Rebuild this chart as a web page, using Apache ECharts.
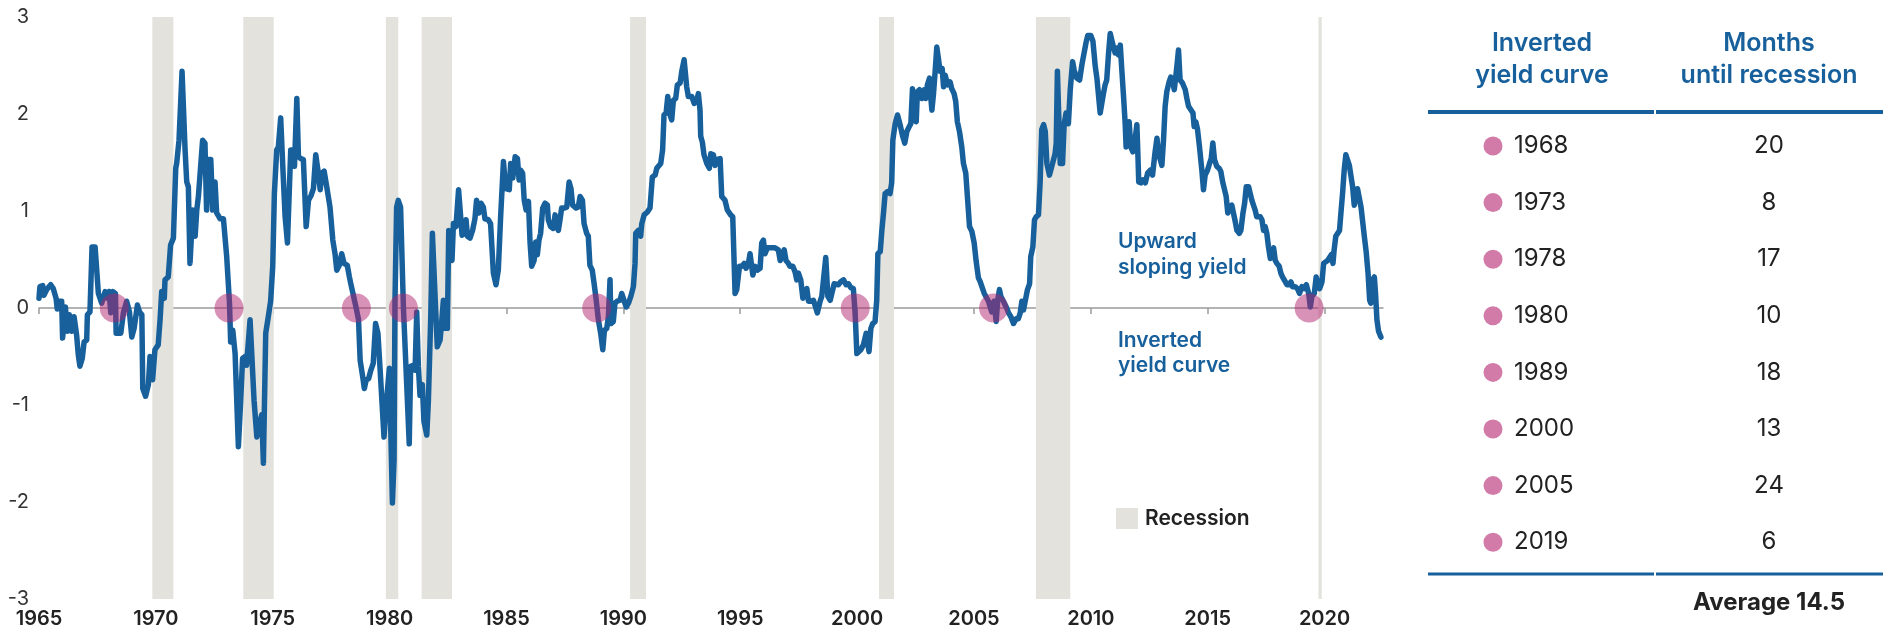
<!DOCTYPE html>
<html>
<head>
<meta charset="utf-8">
<script src="https://cdn.jsdelivr.net/npm/echarts@6/dist/echarts.min.js"></script>
<style>
  html, body { margin: 0; padding: 0; background: #fff; }
  #chart { width: 1887px; height: 634px; }
</style>
</head>
<body>
<div id="chart"></div>
<script>
// yield spread (decimal year, percentage points)
var dates = [
  1965.00,1965.04,1965.16,1965.21,1965.33,1965.50,1965.61,1965.73,1965.78,1965.87,1965.97,
  1966.01,1966.13,1966.21,1966.30,1966.40,1966.50,1966.61,1966.68,1966.75,1966.85,1966.93,
  1967.04,1967.07,1967.18,1967.27,1967.40,1967.54,1967.68,1967.83,1967.92,
  1968.00,1968.07,1968.15,1968.27,1968.30,1968.40,1968.50,1968.61,1968.75,1968.87,1968.97,
  1969.07,1969.15,1969.21,1969.30,1969.40,1969.44,1969.56,1969.68,1969.75,1969.86,1969.96,
  1970.10,1970.18,1970.25,1970.36,1970.39,1970.53,1970.63,1970.75,1970.85,1970.89,1970.99,
  1971.12,1971.25,1971.32,1971.39,1971.46,1971.58,1971.68,1971.75,1971.82,1971.89,
  1972.00,1972.10,1972.17,1972.25,1972.35,1972.43,1972.53,1972.60,1972.75,1972.89,
  1973.03,1973.15,1973.20,1973.29,1973.39,1973.53,1973.63,1973.71,1973.81,1973.88,
  1974.03,1974.10,1974.20,1974.32,1974.43,1974.53,1974.60,1974.70,1974.81,1974.91,
  1975.00,1975.07,1975.17,1975.24,1975.34,1975.43,1975.53,1975.63,1975.71,1975.77,1975.88,1975.93,
  1976.03,1976.10,1976.20,1976.31,1976.43,1976.53,1976.64,1976.74,1976.84,1976.95,
  1977.03,1977.10,1977.20,1977.31,1977.45,1977.57,1977.67,1977.74,1977.85,1977.95,
  1978.05,1978.19,1978.28,1978.34,1978.45,1978.57,1978.67,1978.74,1978.85,1978.92,
  1979.00,1979.10,1979.20,1979.30,1979.40,1979.50,1979.59,1979.66,1979.76,1979.87,1979.99,
  1980.04,1980.12,1980.19,1980.23,1980.30,1980.37,1980.47,1980.59,1980.73,1980.84,1980.90,
  1981.01,1981.09,1981.16,1981.23,1981.30,1981.40,1981.47,1981.59,1981.66,1981.76,1981.83,1981.94,
  1982.04,1982.16,1982.23,1982.30,1982.37,1982.47,1982.53,1982.61,1982.67,1982.73,1982.84,1982.90,1982.95,
  1983.04,1983.10,1983.20,1983.27,1983.33,1983.44,1983.55,1983.65,1983.72,1983.82,1983.91,
  1984.01,1984.08,1984.22,1984.32,1984.44,1984.55,1984.65,1984.75,1984.87,1984.97,
  1985.05,1985.12,1985.18,1985.27,1985.37,1985.47,1985.54,1985.61,1985.69,1985.76,1985.84,1985.94,
  1986.01,1986.08,1986.18,1986.25,1986.32,1986.39,1986.46,1986.55,1986.65,1986.75,1986.79,1986.89,
  1987.00,1987.08,1987.15,1987.22,1987.29,1987.36,1987.46,1987.58,1987.68,1987.76,1987.83,1987.89,1987.98,
  1988.07,1988.15,1988.25,1988.32,1988.43,1988.50,1988.57,1988.67,1988.75,1988.83,1988.93,
  1989.03,1989.12,1989.19,1989.29,1989.36,1989.43,1989.47,1989.57,1989.64,1989.74,1989.86,1989.93,
  1990.00,1990.12,1990.22,1990.32,1990.43,1990.50,1990.53,1990.64,1990.74,1990.79,1990.89,
  1991.03,1991.14,1991.24,1991.36,1991.43,1991.50,1991.60,1991.68,1991.74,1991.83,1991.90,1991.97,
  1992.07,1992.14,1992.24,1992.31,1992.43,1992.50,1992.60,1992.71,1992.78,1992.93,
  1993.03,1993.14,1993.21,1993.28,1993.31,1993.38,1993.45,1993.57,1993.68,1993.74,1993.85,1993.92,1993.99,
  1994.14,1994.21,1994.35,1994.45,1994.59,1994.68,1994.78,1994.85,1994.97,
  1995.07,1995.17,1995.25,1995.35,1995.42,1995.54,1995.64,1995.74,1995.85,1995.92,1995.99,
  1996.06,1996.16,1996.28,1996.35,1996.49,1996.63,1996.71,1996.78,1996.88,1996.96,
  1997.06,1997.13,1997.25,1997.35,1997.42,1997.49,1997.59,1997.68,1997.75,1997.85,1997.92,
  1998.02,1998.13,1998.20,1998.30,1998.42,1998.49,1998.56,1998.66,1998.75,1998.85,1998.92,
  1999.02,1999.10,1999.20,1999.30,1999.42,1999.53,1999.63,1999.73,1999.84,1999.92,1999.99,
  2000.06,2000.16,2000.27,2000.39,2000.44,2000.51,2000.59,2000.67,2000.77,2000.84,2000.89,2000.99,
  2001.06,2001.13,2001.20,2001.30,2001.41,2001.48,2001.53,2001.63,2001.73,2001.84,2001.95,
  2002.04,2002.13,2002.23,2002.30,2002.37,2002.44,2002.53,2002.58,2002.67,2002.77,2002.87,2002.94,
  2003.01,2003.10,2003.15,2003.20,2003.27,2003.34,2003.41,2003.48,2003.55,2003.64,2003.70,2003.77,2003.87,2003.98,
  2004.05,2004.15,2004.22,2004.29,2004.38,2004.48,2004.55,2004.65,2004.72,2004.81,2004.91,
  2005.01,2005.09,2005.19,2005.27,2005.34,2005.44,2005.52,2005.62,2005.69,2005.76,2005.86,2005.95,
  2006.01,2006.09,2006.15,2006.26,2006.38,2006.48,2006.58,2006.69,2006.81,2006.90,2006.98,
  2007.05,2007.12,2007.19,2007.29,2007.38,2007.43,2007.52,2007.59,2007.66,2007.76,2007.83,2007.90,2007.98,
  2008.05,2008.12,2008.23,2008.33,2008.40,2008.47,2008.52,2008.57,2008.69,2008.79,2008.86,2008.94,
  2009.04,2009.12,2009.22,2009.29,2009.40,2009.52,2009.62,2009.69,2009.79,2009.87,
  2010.00,2010.09,2010.19,2010.26,2010.33,2010.40,2010.47,2010.54,2010.61,2010.68,2010.76,2010.83,2010.90,2010.97,
  2011.04,2011.11,2011.18,2011.26,2011.33,2011.40,2011.47,2011.51,2011.58,2011.64,2011.71,2011.80,2011.90,2011.97,
  2012.01,2012.05,2012.14,2012.23,2012.33,2012.43,2012.54,2012.64,2012.75,2012.83,2012.90,2012.97,
  2013.04,2013.11,2013.18,2013.25,2013.35,2013.42,2013.51,2013.57,2013.65,2013.71,2013.75,2013.82,2013.92,
  2014.04,2014.11,2014.18,2014.25,2014.37,2014.42,2014.49,2014.56,2014.65,2014.75,2014.82,2014.89,2014.99,
  2015.08,2015.15,2015.22,2015.29,2015.39,2015.49,2015.56,2015.64,2015.71,2015.79,2015.86,2015.93,
  2016.03,2016.10,2016.18,2016.25,2016.35,2016.42,2016.51,2016.58,2016.65,2016.75,2016.82,2016.89,2016.96,
  2017.03,2017.10,2017.18,2017.25,2017.32,2017.39,2017.46,2017.53,2017.60,2017.68,2017.75,2017.82,2017.89,2017.96,
  2018.06,2018.13,2018.20,2018.27,2018.39,2018.49,2018.56,2018.63,2018.74,2018.84,2018.93,
  2019.03,2019.13,2019.22,2019.32,2019.39,2019.46,2019.56,2019.64,2019.71,2019.79,2019.89,2019.96,
  2020.03,2020.13,2020.21,2020.29,2020.36,2020.41,2020.48,2020.56,2020.64,2020.70,2020.77,2020.84,2020.91,2020.98,
  2021.06,2021.13,2021.20,2021.27,2021.34,2021.41,2021.48,2021.56,2021.64,2021.71,2021.78,2021.86,2021.93,2021.98,
  2022.05,2022.13,2022.18,2022.24,2022.31,2022.41
];
var spread = [
  0.10,0.22,0.23,0.13,0.19,0.24,0.20,0.10,-0.01,0.07,0.07,
  -0.31,0.01,-0.24,-0.07,-0.24,-0.09,-0.28,-0.48,-0.60,-0.52,-0.35,
  -0.33,-0.07,-0.04,0.63,0.63,0.15,0.05,0.17,0.10,
  0.17,-0.05,0.17,0.15,-0.26,-0.26,-0.26,-0.05,0.07,-0.04,-0.30,
  -0.21,-0.23,0.03,-0.04,-0.07,-0.83,-0.91,-0.79,-0.50,-0.74,-0.43,
  -0.38,-0.12,0.17,0.10,0.29,0.32,0.65,0.72,1.44,1.49,1.73,
  2.44,1.63,1.30,1.25,0.46,1.01,0.74,1.01,1.15,1.16,
  1.73,1.70,1.01,1.53,1.53,1.01,1.30,0.98,0.92,0.92,
  0.53,0.05,-0.35,-0.23,-0.47,-1.43,-0.95,-0.52,-0.50,-0.59,
  -0.12,-0.14,-0.95,-1.33,-1.19,-1.10,-1.60,-0.26,-0.09,0.07,
  0.43,1.18,1.63,1.66,1.96,1.46,0.94,0.67,0.65,1.63,1.63,1.46,
  2.16,1.56,1.54,1.53,0.84,1.11,1.16,1.23,1.58,1.39,
  1.22,1.39,1.41,1.25,1.04,0.70,0.55,0.39,0.44,0.56,
  0.46,0.44,0.32,0.25,0.13,0.00,-0.12,-0.54,-0.71,-0.83,
  -0.74,-0.73,-0.64,-0.57,-0.16,-0.26,-0.62,-0.64,-1.33,-0.95,-0.62,
  -0.62,-2.01,-1.57,0.08,1.04,1.11,1.04,0.01,-0.78,-1.40,-0.60,
  -0.59,-0.64,-0.04,-0.60,-0.90,-0.79,-1.17,-1.31,-0.95,-0.09,0.77,0.15,
  -0.40,-0.33,-0.14,0.08,-0.21,-0.21,0.80,0.80,0.49,0.87,0.84,0.84,1.22,
  0.94,0.75,0.77,0.91,0.74,0.72,0.80,0.92,1.11,0.98,1.08,
  1.04,0.92,0.91,0.87,0.36,0.24,0.39,0.94,1.51,1.23,
  1.25,1.22,1.49,1.34,1.56,1.54,1.32,1.42,1.39,1.11,1.01,1.10,
  0.67,0.43,0.49,0.68,0.55,0.70,0.77,1.03,1.08,1.06,0.91,0.84,
  0.82,0.96,0.84,0.80,0.91,1.03,1.03,1.04,1.30,1.23,1.06,1.04,1.03,
  1.04,1.15,1.11,0.87,0.77,0.74,0.44,0.39,0.25,0.10,-0.12,
  -0.26,-0.43,-0.23,-0.21,-0.09,0.29,-0.16,-0.14,0.05,0.07,0.08,0.15,
  0.10,0.01,0.05,0.12,0.22,0.46,0.77,0.80,0.74,0.87,0.96,
  0.99,1.03,1.35,1.37,1.44,1.46,1.49,1.63,1.99,2.01,2.18,2.01,
  1.94,2.14,2.16,2.30,2.32,2.44,2.56,2.28,2.18,2.18,
  2.11,2.14,2.21,2.04,1.77,1.71,1.58,1.49,1.44,1.59,1.58,1.47,1.53,
  1.54,1.15,1.11,1.01,0.96,0.94,0.15,0.19,0.43,
  0.43,0.46,0.41,0.46,0.56,0.34,0.43,0.39,0.41,0.67,0.70,
  0.56,0.62,0.62,0.60,0.62,0.60,0.49,0.49,0.60,0.49,
  0.46,0.43,0.43,0.37,0.29,0.36,0.29,0.10,0.08,0.20,0.07,
  0.07,0.08,0.03,-0.05,0.07,0.12,0.10,0.52,0.12,0.08,0.15,
  0.25,0.24,0.24,0.27,0.29,0.24,0.25,0.21,0.20,-0.07,-0.47,
  -0.47,-0.43,-0.38,-0.26,-0.26,-0.45,-0.21,-0.16,-0.14,0.08,0.56,0.58,
  0.80,0.98,1.18,1.20,1.18,1.29,1.73,1.90,1.99,1.89,1.77,
  1.70,1.82,1.87,1.90,2.26,2.04,1.92,2.23,2.25,2.16,2.25,2.16,
  2.30,2.37,2.18,2.04,2.21,2.44,2.69,2.57,2.44,2.47,2.28,2.40,2.30,2.33,
  2.26,2.21,2.13,1.92,1.82,1.66,1.49,1.39,1.15,0.84,0.79,
  0.67,0.49,0.31,0.27,0.22,0.15,0.15,0.07,0.05,-0.04,0.07,-0.14,
  0.07,0.19,0.12,0.07,0.01,-0.05,-0.09,-0.16,-0.11,-0.11,-0.05,
  0.07,-0.02,-0.02,0.19,0.25,0.53,0.63,0.91,0.94,0.96,1.29,1.84,1.89,
  1.82,1.49,1.37,1.46,1.47,1.59,1.70,2.44,1.49,1.49,1.90,2.01,
  1.90,2.25,2.54,2.45,2.37,2.35,2.51,2.52,2.73,2.81,
  2.81,2.75,2.49,2.37,2.37,2.01,2.11,2.21,2.30,2.35,2.63,2.83,2.76,2.69,
  2.63,2.68,2.61,2.71,2.44,2.18,1.90,1.66,1.80,1.92,1.66,1.61,1.75,1.89,
  1.61,1.30,1.29,1.32,1.29,1.39,1.42,1.37,1.61,1.75,1.59,1.53,
  1.47,1.73,2.08,2.23,2.33,2.38,2.33,2.25,2.42,2.56,2.66,2.35,2.32,
  2.25,2.16,2.08,2.06,2.01,1.87,1.92,1.85,1.66,1.42,1.22,1.37,1.42,
  1.49,1.54,1.70,1.53,1.46,1.44,1.41,1.30,1.23,1.15,0.98,1.04,
  1.06,0.98,0.89,0.80,0.77,0.80,0.98,1.08,1.25,1.25,1.18,1.11,1.10,
  1.01,0.94,0.92,0.94,0.91,0.80,0.84,0.77,0.63,0.51,0.51,0.62,0.49,0.46,
  0.43,0.36,0.32,0.31,0.24,0.24,0.27,0.22,0.22,0.20,0.15,
  0.22,0.20,0.24,0.15,0.01,0.12,0.15,0.32,0.34,0.20,0.27,0.46,
  0.48,0.49,0.51,0.55,0.46,0.60,0.74,0.74,0.80,0.98,1.18,1.42,1.58,1.56,
  1.47,1.46,1.25,1.06,1.04,1.23,1.22,1.04,0.87,0.72,0.58,0.36,0.08,0.05,
  0.29,0.32,0.15,-0.12,-0.24,-0.30
];

// inversions marked on the zero line
var inversionDates = [1968.22, 1973.13, 1978.58, 1980.59, 1988.86, 1999.92, 2005.84, 2019.34];

// recession bands [start, end]
var recessionStart = [1969.85, 1973.74, 1979.84, 1981.37, 1990.29, 2000.94, 2007.65, 2019.74];
var recessionEnd   = [1970.75, 1975.04, 1980.37, 1982.67, 1990.97, 2001.58, 2009.12, 2019.88];

var yearTicks = [1965, 1970, 1975, 1980, 1985, 1990, 1995, 2000, 2005, 2010, 2015, 2020];

// table on the right
var tableYears = ['1968', '1973', '1978', '1980', '1989', '2000', '2005', '2019'];
var monthsUntil = ['20', '8', '17', '10', '18', '13', '24', '6'];
var averageMonths = '14.5';

var BLUE = '#17609c';
var PINK = '#d27ba9';
var GREY_BAND = '#e3e2dd';
var FONT = 'Inter, Lato, sans-serif';

var chart = echarts.init(document.getElementById('chart'), null, { renderer: 'canvas' });

var linePoints = dates.map(function (d, i) { return [d, spread[i]]; });
var dots = inversionDates.map(function (d) { return [d, 0]; });
var bands = recessionStart.map(function (s, i) {
    return [{ xAxis: s }, { xAxis: recessionEnd[i] }];
});

// table graphics
var g = [];
function txt(x, y, s, font, fill, align) {
    g.push({
        type: 'text', x: x, y: y, silent: true,
        style: {
            text: s, font: font, fill: fill,
            align: align, verticalAlign: 'middle',
            textAlign: align, textVerticalAlign: 'middle'
        }
    });
}
var col1 = 1542, col2 = 1769;
txt(col1, 43, 'Inverted', '600 25px ' + FONT, BLUE, 'center');
txt(col1, 75, 'yield curve', '600 25px ' + FONT, BLUE, 'center');
txt(col2, 43, 'Months', '600 25px ' + FONT, BLUE, 'center');
txt(col2, 75, 'until recession', '600 25px ' + FONT, BLUE, 'center');
g.push({ type: 'line', silent: true, shape: { x1: 1428, y1: 112, x2: 1654, y2: 112 }, style: { stroke: BLUE, lineWidth: 4 } });
g.push({ type: 'line', silent: true, shape: { x1: 1656, y1: 112, x2: 1883, y2: 112 }, style: { stroke: BLUE, lineWidth: 4 } });
tableYears.forEach(function (yr, i) {
    var y = 146 + i * 56.6;
    g.push({ type: 'circle', silent: true, shape: { cx: 1493, cy: y, r: 9.5 }, style: { fill: PINK } });
    txt(1514, y, yr, '400 24px ' + FONT, '#222', 'left');
    txt(col2, y, monthsUntil[i], '400 24px ' + FONT, '#222', 'center');
});
g.push({ type: 'line', silent: true, shape: { x1: 1428, y1: 574, x2: 1654, y2: 574 }, style: { stroke: BLUE, lineWidth: 3 } });
g.push({ type: 'line', silent: true, shape: { x1: 1656, y1: 574, x2: 1883, y2: 574 }, style: { stroke: BLUE, lineWidth: 3 } });
txt(col2, 603, 'Average ' + averageMonths, '700 24px ' + FONT, '#222', 'center');

// chart annotations
txt(1118, 242, 'Upward', '600 21px ' + FONT, BLUE, 'left');
txt(1118, 268, 'sloping yield', '600 21px ' + FONT, BLUE, 'left');
txt(1118, 341, 'Inverted', '600 21px ' + FONT, BLUE, 'left');
txt(1118, 366, 'yield curve', '600 21px ' + FONT, BLUE, 'left');

var option = {
    animation: false,
    backgroundColor: '#fff',
    textStyle: { fontFamily: FONT },
    grid: { left: 39, right: 504, top: 17, bottom: 35, containLabel: false },
    legend: {
        data: [{ name: 'Recession', icon: 'rect' }],
        left: 1116, top: 508, padding: 0,
        itemWidth: 22, itemHeight: 21,
        selectedMode: false,
        textStyle: { fontSize: 21, fontWeight: 600, color: '#222', fontFamily: FONT, padding: [0, 0, 0, 2] }
    },
    xAxis: [{
        type: 'value', min: 1965, max: 2022.5, position: 'bottom',
        axisLine: { show: false, onZero: false },
        axisTick: { show: false },
        splitLine: { show: false },
        axisLabel: {
            customValues: yearTicks,
            fontSize: 20, fontWeight: 600, color: '#222', margin: 10,
            formatter: function (v) { return String(v); }
        }
    }, {
        type: 'value', min: 1965, max: 2022.5, position: 'bottom',
        axisLine: { show: true, onZero: true, lineStyle: { color: '#9a9a9a', width: 1.5 } },
        axisTick: { show: true, customValues: yearTicks, length: 6, lineStyle: { color: '#9a9a9a', width: 1.5 } },
        axisLabel: { show: false },
        splitLine: { show: false }
    }],
    yAxis: {
        type: 'value', min: -3, max: 3, interval: 1,
        axisLine: { show: false },
        axisTick: { show: false },
        splitLine: { show: false },
        axisLabel: { fontSize: 20, color: '#333', margin: 10 }
    },
    series: [{
        name: 'Recession',
        type: 'line',
        data: [],
        itemStyle: { color: GREY_BAND },
        lineStyle: { color: GREY_BAND },
        markArea: {
            silent: true,
            itemStyle: { color: GREY_BAND },
            data: bands
        },
        z: 1
    }, {
        name: 'Spread',
        type: 'line',
        data: linePoints,
        showSymbol: false,
        lineStyle: { color: BLUE, width: 5.5, join: 'round', cap: 'round' },
        z: 3
    }, {
        name: 'Inversion',
        type: 'scatter',
        data: dots,
        symbolSize: 29,
        itemStyle: { color: 'rgba(176, 34, 110, 0.62)' },
        z: 4
    }],
    graphic: g
};

chart.setOption(option);
</script>
</body>
</html>
